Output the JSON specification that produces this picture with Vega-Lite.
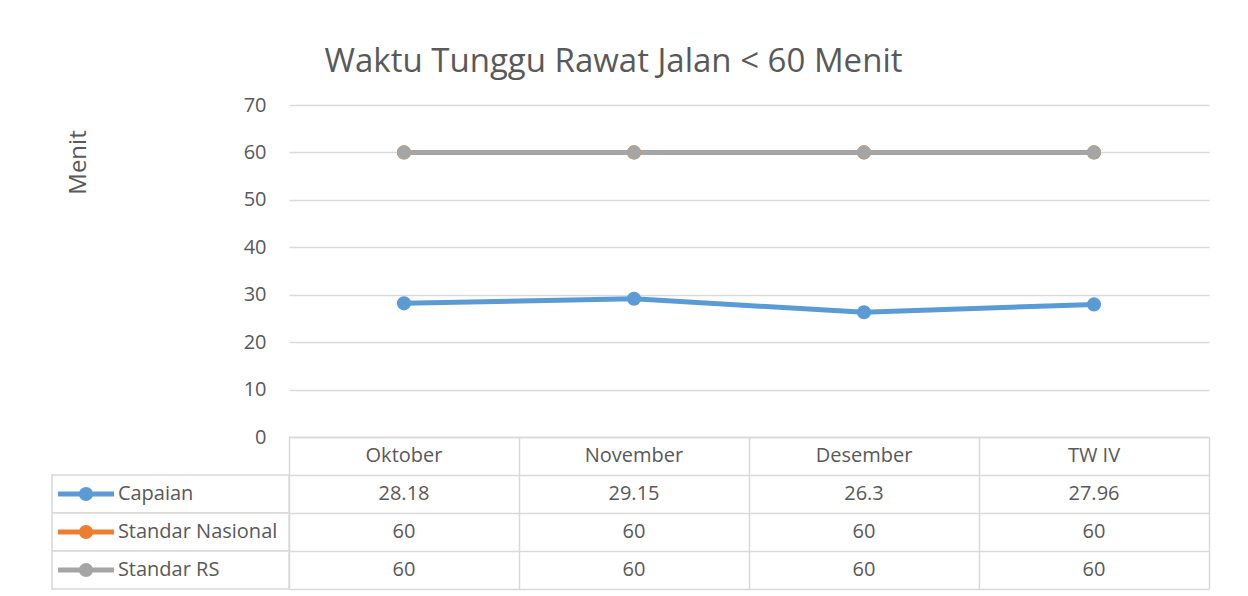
{
  "$schema": "https://vega.github.io/schema/vega-lite/v6.json",
  "background": "white",
  "padding": {"left": 48, "top": 46, "right": 10, "bottom": 5},
  "bounds": "flush",
  "spacing": 0,
  "title": {"text": "Waktu Tunggu Rawat Jalan < 60 Menit", "fontSize": 33, "font": "Open Sans", "fontWeight": "normal", "color": "#595959", "anchor": "middle", "offset": 16, "dx": -15},
  "datasets": {
    "series": [
      {"month": "Oktober", "series": "Capaian", "value": 28.18},
      {"month": "November", "series": "Capaian", "value": 29.15},
      {"month": "Desember", "series": "Capaian", "value": 26.3},
      {"month": "TW IV", "series": "Capaian", "value": 27.96},
      {"month": "Oktober", "series": "Standar Nasional", "value": 60},
      {"month": "November", "series": "Standar Nasional", "value": 60},
      {"month": "Desember", "series": "Standar Nasional", "value": 60},
      {"month": "TW IV", "series": "Standar Nasional", "value": 60},
      {"month": "Oktober", "series": "Standar RS", "value": 60},
      {"month": "November", "series": "Standar RS", "value": 60},
      {"month": "Desember", "series": "Standar RS", "value": 60},
      {"month": "TW IV", "series": "Standar RS", "value": 60}
    ]
  },
  "vconcat": [
    {
      "width": 920,
      "height": 332,
      "data": {"name": "series"},
      "mark": {"type": "line", "strokeWidth": 5, "point": {"filled": true, "size": 200}},
      "encoding": {
        "x": {"field": "month", "type": "nominal", "sort": ["Oktober", "November", "Desember", "TW IV"], "scale": {"type": "point", "padding": 0.5}, "axis": null},
        "y": {"field": "value", "type": "quantitative", "scale": {"domain": [0, 70]},
          "axis": {"values": [0, 10, 20, 30, 40, 50, 60, 70], "grid": true, "gridColor": "#d9d9d9", "gridWidth": 1.3, "domain": false, "ticks": false, "labelFontSize": 20, "labelColor": "#595959", "labelPadding": 23, "labelFont": "Open Sans", "title": "Menit", "titleFont": "Open Sans", "titleFontSize": 24, "titleFontWeight": "normal", "titleColor": "#595959", "titlePadding": 153, "titleY": 57}},
        "color": {"field": "series", "type": "nominal", "scale": {"domain": ["Capaian", "Standar Nasional", "Standar RS"], "range": ["#5B9BD5", "#ED7D31", "#A5A5A5"]}, "legend": null}
      }
    },
    {
      "width": 920,
      "height": 152,
      "resolve": {"scale": {"x": "independent"}},
      "layer": [
        {
          "data": {"name": "series"},
          "mark": {"type": "text", "fontSize": 20, "font": "Open Sans", "color": "#595959"},
          "encoding": {
            "x": {"field": "month", "type": "nominal", "sort": ["Oktober", "November", "Desember", "TW IV"], "scale": {"type": "band", "paddingInner": 0, "paddingOuter": 0},
              "axis": {"grid": true, "tickBand": "extent", "labels": false, "ticks": false, "domain": false, "title": null, "gridColor": "#d9d9d9", "gridWidth": 1.5}},
            "y": {"field": "series", "type": "nominal", "scale": {"domain": ["_hdr", "Capaian", "Standar Nasional", "Standar RS"], "paddingInner": 0, "paddingOuter": 0},
              "axis": {"grid": true, "tickBand": "extent", "labels": false, "ticks": false, "domain": false, "title": null, "gridColor": "#d9d9d9", "gridWidth": 1.5}},
            "text": {"field": "value", "type": "nominal"}
          }
        },
        {
          "data": {"name": "series"},
          "transform": [{"filter": "datum.series === 'Capaian'"}],
          "mark": {"type": "text", "fontSize": 20, "font": "Open Sans", "color": "#595959"},
          "encoding": {
            "x": {"field": "month", "type": "nominal", "sort": ["Oktober", "November", "Desember", "TW IV"], "scale": {"type": "band", "paddingInner": 0, "paddingOuter": 0}, "axis": null},
            "y": {"datum": "_hdr", "type": "nominal"},
            "text": {"field": "month", "type": "nominal"}
          }
        },
        {
          "data": {"name": "series"},
          "transform": [{"filter": "datum.month === 'Oktober'"}],
          "mark": {"type": "rect", "fill": "white", "stroke": "#d9d9d9", "strokeWidth": 1.5},
          "encoding": {
            "x": {"datum": "legend", "type": "nominal", "scale": {"type": "band", "domain": ["legend"], "range": [-237, 0], "paddingInner": 0, "paddingOuter": 0}, "axis": null},
            "y": {"field": "series", "type": "nominal"}
          }
        },
        {
          "data": {"name": "series"},
          "transform": [{"filter": "datum.month === 'Oktober'"}],
          "mark": {"type": "point", "shape": "M-1,0L1,0", "size": 3136, "filled": false, "strokeWidth": 5, "opacity": 1},
          "encoding": {
            "x": {"datum": "legend", "type": "nominal", "bandPosition": 0.1435, "scale": {"type": "band", "domain": ["legend"], "range": [-237, 0], "paddingInner": 0, "paddingOuter": 0}, "axis": null},
            "y": {"field": "series", "type": "nominal"},
            "color": {"field": "series", "type": "nominal", "legend": null}
          }
        },
        {
          "data": {"name": "series"},
          "transform": [{"filter": "datum.month === 'Oktober'"}],
          "mark": {"type": "point", "shape": "circle", "size": 200, "filled": true, "opacity": 1},
          "encoding": {
            "x": {"datum": "legend", "type": "nominal", "bandPosition": 0.1435, "scale": {"type": "band", "domain": ["legend"], "range": [-237, 0], "paddingInner": 0, "paddingOuter": 0}, "axis": null},
            "y": {"field": "series", "type": "nominal"},
            "color": {"field": "series", "type": "nominal", "legend": null}
          }
        },
        {
          "data": {"name": "series"},
          "transform": [{"filter": "datum.month === 'Oktober'"}],
          "mark": {"type": "text", "align": "left", "fontSize": 20, "font": "Open Sans", "color": "#595959"},
          "encoding": {
            "x": {"datum": "legend", "type": "nominal", "bandPosition": 0.278, "scale": {"type": "band", "domain": ["legend"], "range": [-237, 0], "paddingInner": 0, "paddingOuter": 0}, "axis": null},
            "y": {"field": "series", "type": "nominal"},
            "text": {"field": "series", "type": "nominal"}
          }
        }
      ]
    }
  ],
  "config": {
    "view": {"stroke": null},
    "font": "Open Sans"
  }
}
